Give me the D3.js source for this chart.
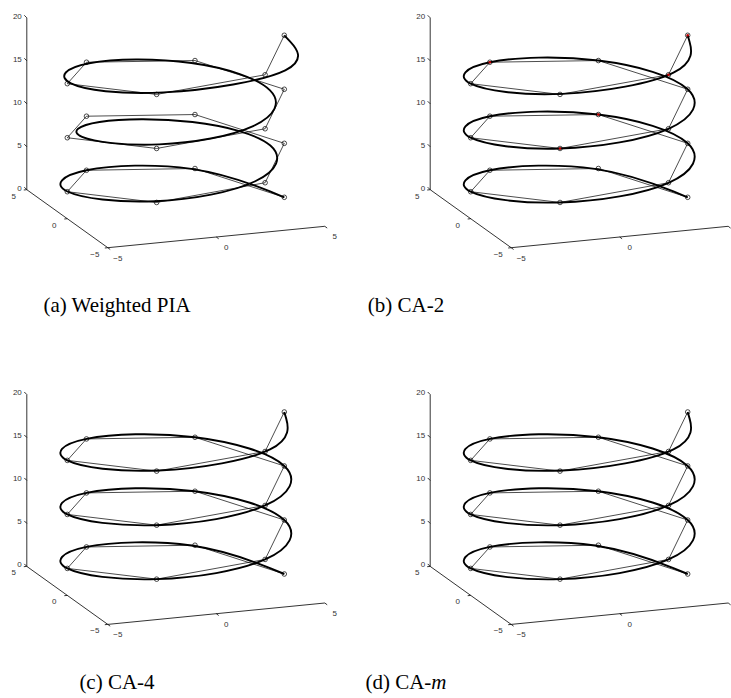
<!DOCTYPE html>
<html>
<head>
<meta charset="utf-8">
<script src="https://cdn.jsdelivr.net/npm/d3@7"></script>
<style>
  body { margin: 0; background: #fff; }
</style>
</head>
<body>
<div id="chart"></div>
<script>
// data points: helix samples at t = k*pi/3, shared by every panel
const pointX = [5, 2.5, -2.5, -5, -2.5, 2.5, 5, 2.5, -2.5, -5, -2.5, 2.5, 5, 2.5, -2.5, -5, -2.5, 2.5, 5];
const pointY = [0, 4.33, 4.33, 0, -4.33, -4.33, 0, 4.33, 4.33, 0, -4.33, -4.33, 0, 4.33, 4.33, 0, -4.33, -4.33, 0];
const pointZ = [0, 1.05, 2.09, 3.14, 4.19, 5.24, 6.28, 7.33, 8.38, 9.42, 10.47, 11.52, 12.57, 13.61, 14.66, 15.71, 16.76, 17.80, 18.85];

// B-spline control points of the fitted curve, weighted PIA (a)
const ctrlWpiaX = [5, 3, -3, -6, -2.9, 2.7, 5.2, 2.55, -2.55, -5.2, -2.6, 2.6, 5.2, 2.75, -2.9, -5.8, -2.9, 4.8, 5];
const ctrlWpiaY = [0, 5.2, 5.2, 0, -5.02, -4.68, 0, 4.42, 4.42, 0, -4.5, -4.5, 0, 4.76, 5.02, 0, -5.02, -4.75, 0];
const ctrlWpiaZ = [0, 1.05, 2.09, 3.14, 4.19, 5.24, 6.28, 6.9, 8.0, 9.42, 10.47, 11.52, 12.57, 13.61, 14.66, 15.71, 16.76, 17.85, 18.85];

// B-spline control points for the CA variants (b), (c), (d)
const ctrlCaX = [5, 3, -3, -6, -3, 3, 6, 3, -3, -6, -3, 3, 6, 3, -3, -6, -3, 3.7, 5];
const ctrlCaY = [0, 5.2, 5.2, 0, -5.2, -5.2, 0, 5.2, 5.2, 0, -5.2, -5.2, 0, 5.2, 5.2, 0, -5.2, -4.9, 0];
const ctrlCaZ = [0, 1.05, 2.09, 3.14, 4.19, 5.24, 6.28, 7.33, 8.38, 9.42, 10.47, 11.52, 12.57, 13.61, 14.66, 15.71, 16.76, 17.85, 18.85];

// indices of the points marked in red in panel (b)
const markedCa2 = [7, 10, 14, 17, 18];

// axis ticks
const xTicks = [-5, 0, 5];
const yTicks = [-5, 0, 5];
const zTicks = [0, 5, 10, 15, 20];

const panelNames = ["a", "b", "c", "d"];
const captions = ["Weighted PIA", "CA-2", "CA-4", "CA-"];
const svgWidth = 731, svgHeight = 698;

class HelixPanel {
    constructor(svg, dx, dy) {
        this.dx = dx;
        this.g = svg.append("g").attr("transform", `translate(${dx}, ${dy})`);
        // screen position of box corner (x=-5, y=-5, z=0) and edge vectors
        this.corner = [107.8, 247.7];
        this.ex = [217, -21.4];
        this.ey = [-81, -58];
        this.ez = [0, -171.9];
        this.xScale = d3.scaleLinear().domain([-5, 5]).range([0, 1]);
        this.yScale = d3.scaleLinear().domain([-5, 5]).range([0, 1]);
        this.zScale = d3.scaleLinear().domain([0, 20]).range([0, 1]);
    }

    project(x, y, z) {
        const u = this.xScale(x), v = this.yScale(y), w = this.zScale(z);
        return [
            this.corner[0] + u * this.ex[0] + v * this.ey[0] + w * this.ez[0],
            this.corner[1] + u * this.ex[1] + v * this.ey[1] + w * this.ez[1]
        ];
    }

    drawAxes() {
        const axisLine = (a, b) => this.g.append("line")
            .attr("x1", a[0]).attr("y1", a[1])
            .attr("x2", b[0]).attr("y2", b[1])
            .style("stroke", "#000")
            .style("stroke-width", 0.8);

        axisLine(this.project(-5, 5, 0), this.project(-5, 5, 20));
        axisLine(this.project(-5, 5, 0), this.project(-5, -5, 0));
        axisLine(this.project(-5, -5, 0), this.project(5, -5, 0));

        const fmt = v => v < 0 ? "\u2212" + Math.abs(v) : String(v);
        const label = (p, text, anchor) => {
            // the page edge crops labels of the right-hand panels
            if (p[0] + this.dx + 4 > svgWidth) return;
            this.g.append("text")
                .attr("x", p[0]).attr("y", p[1])
                .attr("text-anchor", anchor)
                .style("font-family", "Liberation Sans, Arial, sans-serif")
                .style("font-size", "8px")
                .style("fill", "#333")
                .text(text);
        };

        zTicks.forEach(z => {
            const p = this.project(-5, 5, z);
            axisLine(p, [p[0] - 2.5, p[1] - 2.5]);
            label([p[0] - 5, p[1] + 1], fmt(z), "end");
        });
        yTicks.forEach(y => {
            const p = this.project(-5, y, 0);
            axisLine(p, [p[0] - 3, p[1] + 0.3]);
            label([p[0] - 13, p[1] + 9], fmt(y), "middle");
        });
        xTicks.forEach(x => {
            const p = this.project(x, -5, 0);
            axisLine(p, [p[0] + 2.4, p[1] + 1.8]);
            label([p[0] + 10, p[1] + 13], fmt(x), "middle");
        });
    }

    drawCurve(cx, cy, cz) {
        const ctrl = cx.map((x, i) => this.project(x, cy[i], cz[i]));
        const line = d3.line().curve(d3.curveBasis);
        this.g.append("path")
            .attr("d", line(ctrl))
            .style("fill", "none")
            .style("stroke", "#000")
            .style("stroke-width", 1.9);
    }

    drawPoints(marked) {
        const pts = pointX.map((x, i) => this.project(x, pointY[i], pointZ[i]));
        this.g.append("path")
            .attr("d", d3.line()(pts))
            .style("fill", "none")
            .style("stroke", "#000")
            .style("stroke-width", 0.7);

        this.g.selectAll(".mark")
            .data(marked.map(k => pts[k]))
            .enter().append("circle")
            .attr("class", "mark")
            .attr("cx", d => d[0])
            .attr("cy", d => d[1])
            .attr("r", 1.3)
            .style("fill", "#c00000");

        this.g.selectAll(".pt")
            .data(pts)
            .enter().append("circle")
            .attr("class", "pt")
            .attr("cx", d => d[0])
            .attr("cy", d => d[1])
            .attr("r", 2.3)
            .style("fill", "none")
            .style("stroke", "#000")
            .style("stroke-width", 0.7);
    }
}

const svg = d3.select("#chart").append("svg")
    .attr("width", svgWidth)
    .attr("height", svgHeight);

const offsets = [[0, 0], [403.4, 0], [0, 376.7], [403.4, 376.7]];
const ctrlSets = [
    [ctrlWpiaX, ctrlWpiaY, ctrlWpiaZ],
    [ctrlCaX, ctrlCaY, ctrlCaZ],
    [ctrlCaX, ctrlCaY, ctrlCaZ],
    [ctrlCaX, ctrlCaY, ctrlCaZ]
];
const markedSets = [[], markedCa2, [], []];
const captionX = [117, 406];

panelNames.forEach((name, i) => {
    const [dx, dy] = offsets[i];
    const panel = new HelixPanel(svg, dx, dy);
    panel.drawAxes();
    panel.drawCurve(...ctrlSets[i]);
    panel.drawPoints(markedSets[i]);

    const t = svg.append("text")
        .attr("x", captionX[i % 2])
        .attr("y", 312 + dy)
        .attr("text-anchor", "middle")
        .style("font-family", "Liberation Serif, Times New Roman, serif")
        .style("font-size", "21px")
        .style("fill", "#000");
    t.append("tspan").text(`(${name}) ${captions[i]}`);
    if (name === "d") t.append("tspan").style("font-style", "italic").text("m");
});
</script>
</body>
</html>
